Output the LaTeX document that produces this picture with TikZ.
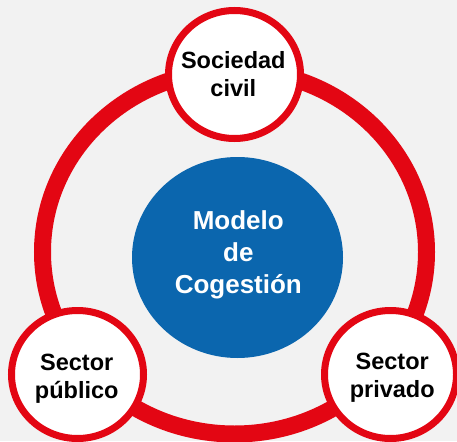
\documentclass[tikz,border=0pt]{standalone}
\usepackage{fontspec}
\setmainfont{Liberation Sans}
\usetikzlibrary{shapes.geometric}
\definecolor{ringred}{RGB}{227,6,19}
\definecolor{coreblue}{RGB}{11,102,174}
\definecolor{bggray}{RGB}{242,242,242}
\begin{document}
\begin{tikzpicture}[x=1pt,y=-1pt,
  member/.style={ellipse, draw=ringred, fill=white, line width=7pt, minimum width=132pt, minimum height=128pt, inner sep=0pt},
  memtext/.style={align=center, font=\fontsize{23.5}{28}\selectfont\bfseries, text=black, inner sep=0pt},
  coretext/.style={align=center, font=\fontsize{26}{32}\selectfont\bfseries, text=white, inner sep=0pt}]
\useasboundingbox (0,0) rectangle (457,441);
\clip (0,0) rectangle (457,441);
\fill[bggray] (0,0) rectangle (457,441);
\draw[ringred, line width=17pt] (234.5,252) ellipse [x radius=192pt, y radius=182pt];
\node[ellipse, fill=coreblue, minimum width=211pt, minimum height=201pt, inner sep=0pt] (core) at (237.5,257.5) {};
\node[member] (civil) at (234.5,74.5) {};
\node[member] (publico) at (77.5,374.5) {};
\node[member] (privado) at (390.5,374.5) {};
\node[memtext] (civilt) at (233.3,74.5) {Sociedad\\civil};
\node[memtext] (publicot) at (76.7,378.5) {Sector\\público};
\node[memtext] (privadot) at (392.2,378) {Sector\\privado};
\node[coretext] (coret) at (238.3,254.5) {Modelo\\de\\Cogestión};
\end{tikzpicture}
\end{document}
